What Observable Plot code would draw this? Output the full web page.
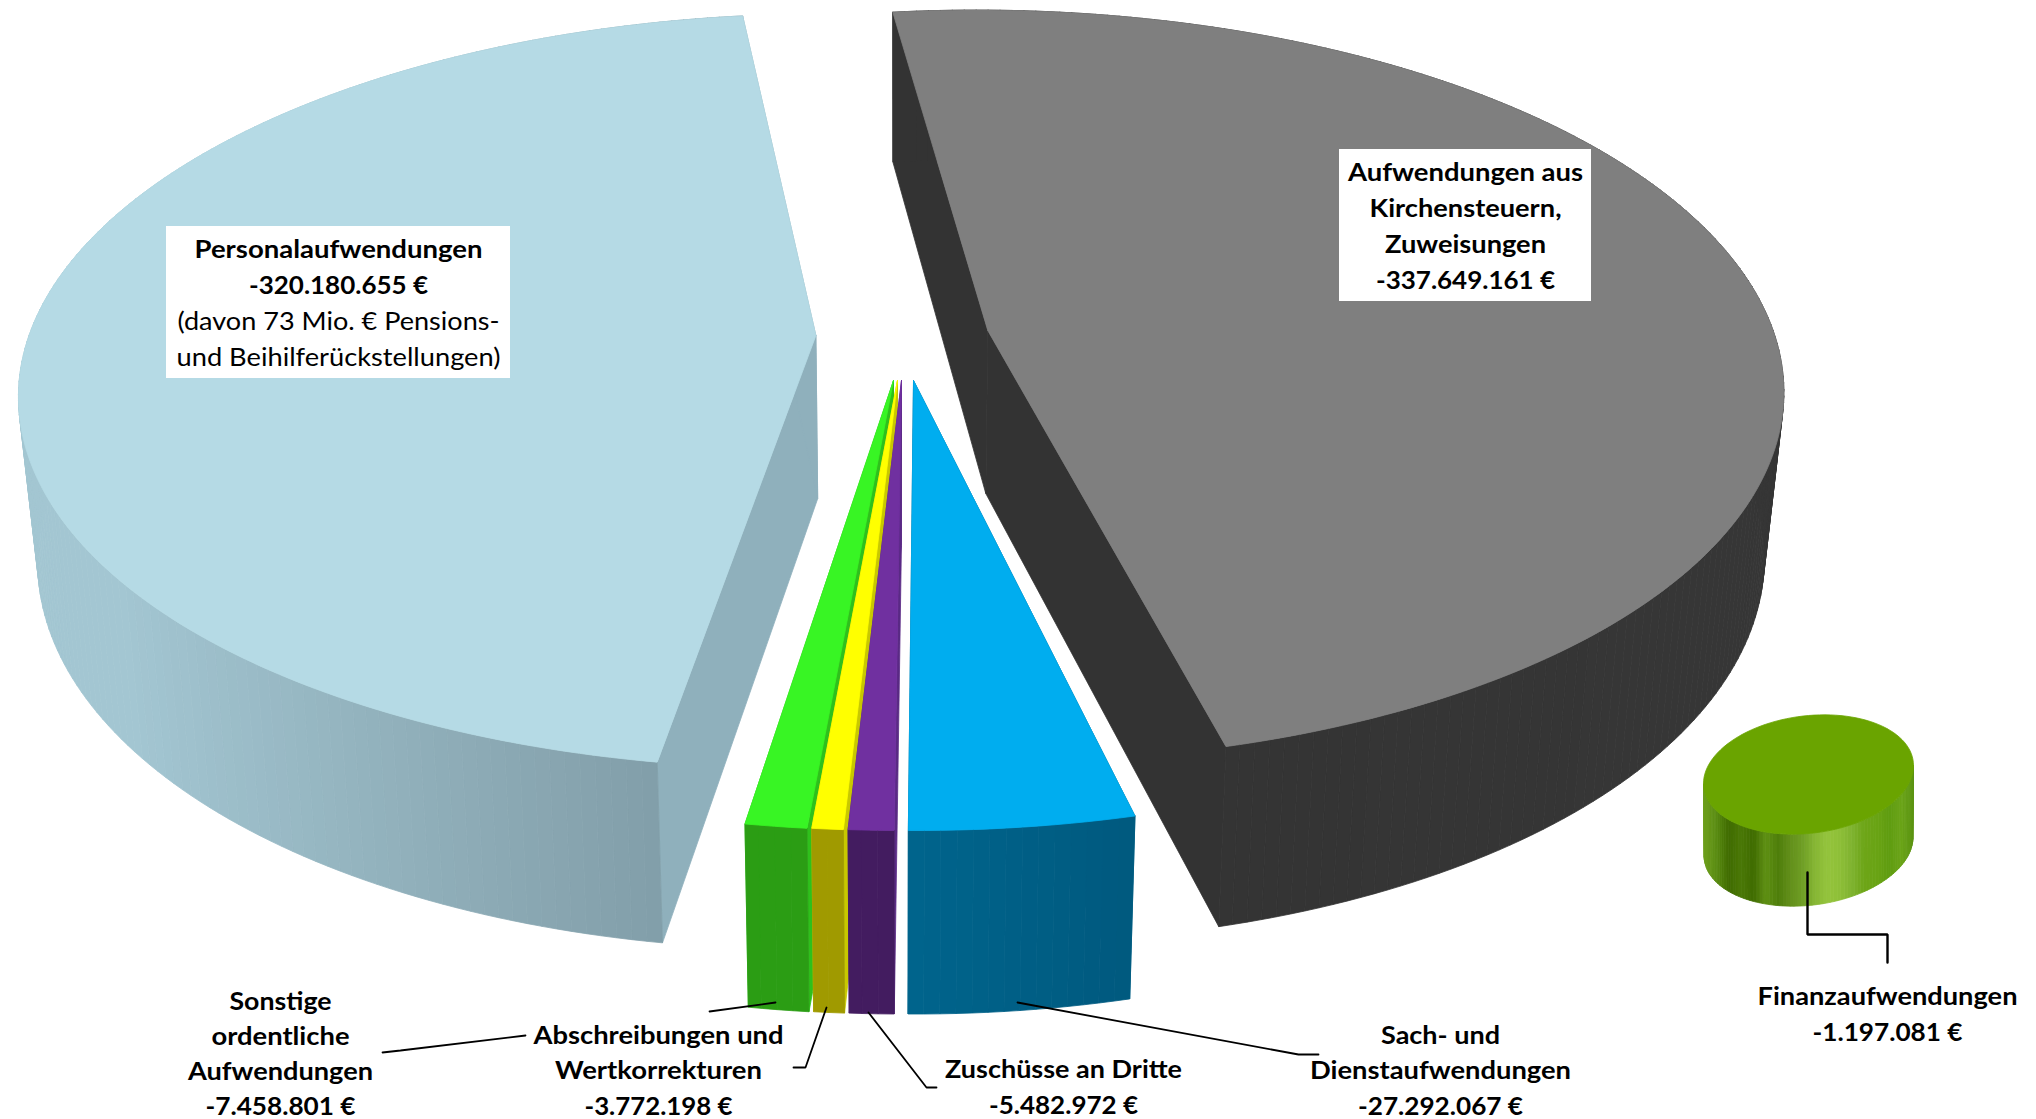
<!DOCTYPE html>
<html lang="de">
<head>
<meta charset="utf-8">
<title>Aufwendungen</title>
<script src="https://cdn.jsdelivr.net/npm/d3@7"></script>
<script src="https://cdn.jsdelivr.net/npm/@observablehq/plot@0.6"></script>
<style>
  html, body { margin: 0; padding: 0; background: #fff; }
  svg { display: block; }
</style>
</head>
<body>
<div id="chart"></div>
<script>
// Expense categories, clockwise from the start of the pie.
const categories = [
  "Aufwendungen aus Kirchensteuern, Zuweisungen",
  "Finanzaufwendungen",
  "Sach- und Dienstaufwendungen",
  "Zuschüsse an Dritte",
  "Abschreibungen und Wertkorrekturen",
  "Sonstige ordentliche Aufwendungen",
  "Personalaufwendungen"
];
const values = [-337649161, -1197081, -27292067, -5482972, -3772198, -7458801, -320180655];

// Per-slice look, same order as the categories.
const topColors  = ["#7f7f7f", "#6aa400", "#00adef", "#7030a0", "#ffff00", "#38f524", "#b5dae5"];
const wallStart  = ["#333333", "#6aa400", "#00648c", "#431c60", "#a09a00", "#2b9d14", "#7a959f"];
const wallEnd    = ["#363636", "#6aa400", "#003f5c", "#431c60", "#a09a00", "#2b9d14", "#a3c6d2"];
const faceColors = ["#333333", "#6aa400", "#00648c", "#5a2a85", "#c8c800", "#2fc01c", "#8fb0bc"];
// How far each slice is pulled out of the pie, in pie radii.
const explodeX   = [0.115, 0, 0.02, 0.005, 0, -0.005, -0.1037];
const explodeY   = [0.133, 0, 0, 0, 0, 0, 0.1197];
// Back-to-front drawing order of the slices (the smallest one is drawn on its own).
const paintOrder = [6, 0, 5, 4, 3, 2];

// Perspective of the tilted pie.
const startAngle = -7;
const view = {x0: 897, y0: 380, radiusX: 801, depth: 2550, k: 0.15, h0: 60, h1: 105, shrink: 0.978};

// The small detached disc, with its banded rim shading from left to right.
const disc = {cx: 1808, cy: 774, rx: 105, ry: 59, tilt: -9, height: 72};
const discShades = [
  "#6c9e1a", "#5a8c12", "#3f6b00", "#4a7806", "#3f6b00", "#5f9014", "#4e7e0a", "#628f1a", "#6f9f25",
  "#86b634", "#94c43c", "#8ebf38", "#7fb330", "#6da518", "#6aa414", "#5f9c10", "#6aa418", "#5a9210"
];

// Text blocks; a null line stands for the amount of that category.
const labelBlocks = [
  {cat: 6, cx: 338, y: 249, step: 36, lines: ["Personalaufwendungen", null], widths: [288, 179]},
  {cat: 0, cx: 1465, y: 172, step: 36, lines: ["Aufwendungen aus", "Kirchensteuern,", "Zuweisungen", null], widths: [235, 192, 161, 179]},
  {cat: 1, cx: 1887, y: 996, step: 36, lines: ["Finanzaufwendungen", null], widths: [260, 150]},
  {cat: 2, cx: 1440, y: 1035, step: 35.5, lines: ["Sach- und", "Dienstaufwendungen", null], widths: [119, 261, 165]},
  {cat: 3, cx: 1063, y: 1069, step: 36, lines: ["Zuschüsse an Dritte", null], widths: [237, 149]},
  {cat: 4, cx: 658, y: 1035, step: 35.5, lines: ["Abschreibungen und", "Wertkorrekturen", null], widths: [250, 207, 148]},
  {cat: 5, cx: 280, y: 1001, step: 35, lines: ["Sonstige", "ordentliche", "Aufwendungen", null], widths: [102, 138, 185, 150]}
];
const noteLines = [
  {text: "(davon 73 Mio. € Pensions-", x: 338, y: 321, width: 322},
  {text: "und Beihilferückstellungen)", x: 338, y: 357, width: 324}
];

// White plates behind the two labels that sit on the slices.
const plates = [
  {x1: 166, x2: 510, y1: 226, y2: 378},
  {x1: 1339, x2: 1591, y1: 149, y2: 301}
];

// Leader lines from the slices to their labels.
const leaders = [
  {id: "sonstige-a", w: 1.8, pts: [[775, 1002], [709, 1011]]},
  {id: "sonstige-b", w: 1.8, pts: [[525, 1035], [400, 1050], [382, 1052]]},
  {id: "abschreibung", w: 1.8, pts: [[826, 1007], [805, 1067], [793, 1067]]},
  {id: "zuschuss", w: 1.8, pts: [[868, 1012], [926, 1087], [936, 1087]]},
  {id: "sach", w: 1.8, pts: [[1017, 1002], [1298, 1054], [1318, 1054]]},
  {id: "finanz", w: 2.4, pts: [[1807, 872], [1807, 934], [1887, 934], [1887, 962]]}
];

// Projects a point of the pie plane (X right, Y away from the viewer) to the page;
// z is 0 on the top face and 1 on the bottom face.
function project(X, Y, z) {
  const s = 1 / (1 + view.k * Y);
  const f = z ? view.shrink : 1;
  return {
    x: view.x0 + view.radiusX * X * s * f,
    y: view.y0 + view.depth * (s - 1) + z * (view.h0 + view.h1 * s)
  };
}

const total = d3.sum(values, (v) => Math.abs(v));
let running = startAngle;
const sweeps = values.map((v) => {
  const a0 = running;
  running += (Math.abs(v) / total) * 360;
  return [a0, running];
});

const polygons = [];
function addPolygon(key, color, pts) {
  for (const p of [...pts, pts[0]]) polygons.push({key, color, x: p.x, y: p.y});
}

for (const i of paintOrder) {
  const [a0, a1] = sweeps[i];
  const ex = explodeX[i], ey = explodeY[i];
  const rim = (deg, z) => {
    const t = (deg * Math.PI) / 180;
    return project(ex + Math.sin(t), ey + Math.cos(t), z);
  };
  const hub = (z) => project(ex, ey, z);
  const angles = d3.range(a0, a1, 1).concat(a1);

  addPolygon(`${i}-start`, faceColors[i], [hub(0), rim(a0, 0), rim(a0, 1), hub(1)]);
  addPolygon(`${i}-end`, faceColors[i], [hub(0), rim(a1, 0), rim(a1, 1), hub(1)]);

  // The rim is a run of narrow strips so that its shading can change along the arc.
  const shade = d3.interpolateRgb(wallStart[i], wallEnd[i]);
  for (let j = 0; j + 1 < angles.length; ++j) {
    const a = angles[j], b = angles[j + 1];
    const side = Math.sin(((a + b) * Math.PI) / 360);
    addPolygon(`${i}-rim-${j}`, shade(Math.min(1, Math.abs(side) * 1.25)),
      [rim(a, 0), rim(b, 0), rim(b, 1), rim(a, 1)]);
  }
  addPolygon(`${i}-top`, topColors[i], [hub(0), ...angles.map((a) => rim(a, 0))]);
}

// The detached disc: a rim of strips below an elliptical top.
const discPoint = (deg, z) => {
  const t = (deg * Math.PI) / 180;
  return {
    x: disc.cx + disc.rx * Math.cos(t) * (z ? 0.995 : 1),
    y: disc.cy + disc.ry * Math.sin(t) + disc.tilt * Math.cos(t) + z * disc.height
  };
};
const discColor = d3.scaleLinear()
  .domain(discShades.map((_, i) => i / (discShades.length - 1)))
  .range(discShades)
  .interpolate(d3.interpolateRgb);
const discAngles = d3.range(0, 182, 2);
for (let j = 0; j + 1 < discAngles.length; ++j) {
  const a = discAngles[j], b = discAngles[j + 1];
  const across = 0.5 + 0.5 * Math.cos(((a + b) * Math.PI) / 360);
  addPolygon(`disc-${j}`, discColor(across), [discPoint(a, 0), discPoint(b, 0), discPoint(b, 1), discPoint(a, 1)]);
}
addPolygon("disc-top", topColors[1], d3.range(0, 360, 3).map((a) => discPoint(a, 0)));

const amount = (v) => `${v.toLocaleString("de-DE")} €`;
const boldLines = labelBlocks.flatMap((b) =>
  b.lines.map((line, n) => ({
    text: line ?? amount(values[b.cat]),
    x: b.cx,
    y: b.y + n * b.step,
    width: b.widths[n]
  }))
);

const leaderRows = leaders.flatMap((l) => l.pts.map(([x, y]) => ({id: l.id, w: l.w, x, y})));
const widthOf = new Map([...boldLines, ...noteLines].map((d) => [d.text, d.width]));

const plot = Plot.plot({
  width: 2036,
  height: 1119,
  margin: 0,
  x: {domain: [0, 2036], range: [0, 2036], axis: null},
  y: {domain: [0, 1119], range: [0, 1119], axis: null},
  color: {type: "identity"},
  style: {background: "#fff"},
  marks: [
    Plot.line(polygons, {
      x: "x", y: "y", z: "key",
      fill: "color", stroke: "color",
      strokeWidth: 0.8, strokeLinejoin: "round", curve: "linear"
    }),
    Plot.rect(plates, {x1: "x1", x2: "x2", y1: "y1", y2: "y2", fill: "#fff"}),
    ...d3.groups(leaderRows, (d) => d.id).map(([, rows]) =>
      Plot.line(rows, {x: "x", y: "y", stroke: "#000", strokeWidth: rows[0].w, strokeLinejoin: "miter"})
    ),
    Plot.text(boldLines, {
      x: "x", y: "y", text: "text", textAnchor: "middle", lineAnchor: "middle",
      fontFamily: "Lato", fontWeight: 700, fontSize: 25, fill: "#000"
    }),
    Plot.text(noteLines, {
      x: "x", y: "y", text: "text", textAnchor: "middle", lineAnchor: "middle",
      fontFamily: "Lato", fontWeight: 400, fontSize: 25, fill: "#000"
    })
  ]
});

// The label font is set to an exact run length per line.
d3.select(plot).selectAll("text").each(function () {
  const width = widthOf.get(this.textContent);
  if (width) {
    this.setAttribute("textLength", width);
    this.setAttribute("lengthAdjust", "spacingAndGlyphs");
  }
});

document.getElementById("chart").append(plot);
</script>
</body>
</html>
